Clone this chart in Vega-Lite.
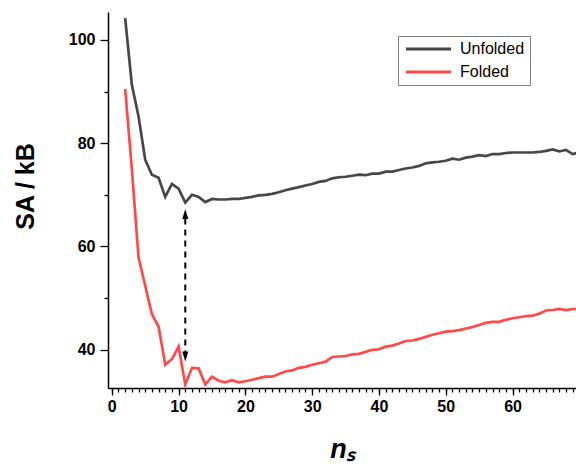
{
  "$schema": "https://vega.github.io/schema/vega-lite/v6.json",
  "autosize": {"type": "none"},
  "width": 468,
  "height": 376,
  "padding": {"left": 108, "top": 12, "right": 0, "bottom": 76},
  "background": "white",
  "config": {
    "view": {"stroke": null},
    "axis": {
      "grid": false,
      "domainColor": "black",
      "domainWidth": 1.5,
      "tickColor": "black",
      "tickWidth": 1.3,
      "labelFont": "Liberation Sans",
      "labelFontWeight": "bold",
      "labelFontSize": 16,
      "labelColor": "black",
      "titleFont": "Liberation Sans",
      "titleFontWeight": "bold",
      "titleColor": "black",
      "labelOverlap": false,
      "labelFlush": false
    }
  },
  "resolve": {"axis": {"x": "independent", "y": "independent"}},
  "datasets": {
    "curves": [
      {"series": "Unfolded", "n": 2, "S": 104.2}, {"series": "Unfolded", "n": 3, "S": 91.3}, {"series": "Unfolded", "n": 4, "S": 85.2}, {"series": "Unfolded", "n": 5, "S": 76.8}, {"series": "Unfolded", "n": 6, "S": 73.9}, {"series": "Unfolded", "n": 7, "S": 73.3}, {"series": "Unfolded", "n": 8, "S": 69.6}, {"series": "Unfolded", "n": 9, "S": 72.1}, {"series": "Unfolded", "n": 10, "S": 71.2}, {"series": "Unfolded", "n": 11, "S": 68.5}, {"series": "Unfolded", "n": 12, "S": 70.0}, {"series": "Unfolded", "n": 13, "S": 69.6}, {"series": "Unfolded", "n": 14, "S": 68.6}, {"series": "Unfolded", "n": 15, "S": 69.2}, {"series": "Unfolded", "n": 16, "S": 69.1}, {"series": "Unfolded", "n": 17, "S": 69.1}, {"series": "Unfolded", "n": 18, "S": 69.2}, {"series": "Unfolded", "n": 19, "S": 69.2}, {"series": "Unfolded", "n": 20, "S": 69.4}, {"series": "Unfolded", "n": 21, "S": 69.6}, {"series": "Unfolded", "n": 22, "S": 69.9}, {"series": "Unfolded", "n": 23, "S": 70.0}, {"series": "Unfolded", "n": 24, "S": 70.2}, {"series": "Unfolded", "n": 25, "S": 70.5}, {"series": "Unfolded", "n": 26, "S": 70.9}, {"series": "Unfolded", "n": 27, "S": 71.2}, {"series": "Unfolded", "n": 28, "S": 71.5}, {"series": "Unfolded", "n": 29, "S": 71.8}, {"series": "Unfolded", "n": 30, "S": 72.1}, {"series": "Unfolded", "n": 31, "S": 72.5}, {"series": "Unfolded", "n": 32, "S": 72.7}, {"series": "Unfolded", "n": 33, "S": 73.2}, {"series": "Unfolded", "n": 34, "S": 73.4}, {"series": "Unfolded", "n": 35, "S": 73.5}, {"series": "Unfolded", "n": 36, "S": 73.7}, {"series": "Unfolded", "n": 37, "S": 73.9}, {"series": "Unfolded", "n": 38, "S": 73.8}, {"series": "Unfolded", "n": 39, "S": 74.1}, {"series": "Unfolded", "n": 40, "S": 74.1}, {"series": "Unfolded", "n": 41, "S": 74.5}, {"series": "Unfolded", "n": 42, "S": 74.5}, {"series": "Unfolded", "n": 43, "S": 74.8}, {"series": "Unfolded", "n": 44, "S": 75.1}, {"series": "Unfolded", "n": 45, "S": 75.3}, {"series": "Unfolded", "n": 46, "S": 75.6}, {"series": "Unfolded", "n": 47, "S": 76.1}, {"series": "Unfolded", "n": 48, "S": 76.3}, {"series": "Unfolded", "n": 49, "S": 76.4}, {"series": "Unfolded", "n": 50, "S": 76.6}, {"series": "Unfolded", "n": 51, "S": 77.0}, {"series": "Unfolded", "n": 52, "S": 76.8}, {"series": "Unfolded", "n": 53, "S": 77.2}, {"series": "Unfolded", "n": 54, "S": 77.4}, {"series": "Unfolded", "n": 55, "S": 77.7}, {"series": "Unfolded", "n": 56, "S": 77.5}, {"series": "Unfolded", "n": 57, "S": 77.9}, {"series": "Unfolded", "n": 58, "S": 77.9}, {"series": "Unfolded", "n": 59, "S": 78.1}, {"series": "Unfolded", "n": 60, "S": 78.2}, {"series": "Unfolded", "n": 61, "S": 78.2}, {"series": "Unfolded", "n": 62, "S": 78.2}, {"series": "Unfolded", "n": 63, "S": 78.2}, {"series": "Unfolded", "n": 64, "S": 78.3}, {"series": "Unfolded", "n": 65, "S": 78.5}, {"series": "Unfolded", "n": 66, "S": 78.8}, {"series": "Unfolded", "n": 67, "S": 78.4}, {"series": "Unfolded", "n": 68, "S": 78.7}, {"series": "Unfolded", "n": 69, "S": 77.9}, {"series": "Unfolded", "n": 70, "S": 78.2},
      {"series": "Folded", "n": 2, "S": 90.5}, {"series": "Folded", "n": 3, "S": 75.0}, {"series": "Folded", "n": 4, "S": 57.9}, {"series": "Folded", "n": 5, "S": 52.4}, {"series": "Folded", "n": 6, "S": 46.9}, {"series": "Folded", "n": 7, "S": 44.5}, {"series": "Folded", "n": 8, "S": 37.1}, {"series": "Folded", "n": 9, "S": 38.2}, {"series": "Folded", "n": 10, "S": 40.6}, {"series": "Folded", "n": 11, "S": 33.3}, {"series": "Folded", "n": 12, "S": 36.5}, {"series": "Folded", "n": 13, "S": 36.4}, {"series": "Folded", "n": 14, "S": 33.3}, {"series": "Folded", "n": 15, "S": 34.8}, {"series": "Folded", "n": 16, "S": 34.0}, {"series": "Folded", "n": 17, "S": 33.7}, {"series": "Folded", "n": 18, "S": 34.1}, {"series": "Folded", "n": 19, "S": 33.7}, {"series": "Folded", "n": 20, "S": 33.9}, {"series": "Folded", "n": 21, "S": 34.2}, {"series": "Folded", "n": 22, "S": 34.5}, {"series": "Folded", "n": 23, "S": 34.8}, {"series": "Folded", "n": 24, "S": 34.8}, {"series": "Folded", "n": 25, "S": 35.3}, {"series": "Folded", "n": 26, "S": 35.8}, {"series": "Folded", "n": 27, "S": 36.0}, {"series": "Folded", "n": 28, "S": 36.5}, {"series": "Folded", "n": 29, "S": 36.7}, {"series": "Folded", "n": 30, "S": 37.1}, {"series": "Folded", "n": 31, "S": 37.4}, {"series": "Folded", "n": 32, "S": 37.7}, {"series": "Folded", "n": 33, "S": 38.6}, {"series": "Folded", "n": 34, "S": 38.7}, {"series": "Folded", "n": 35, "S": 38.8}, {"series": "Folded", "n": 36, "S": 39.1}, {"series": "Folded", "n": 37, "S": 39.2}, {"series": "Folded", "n": 38, "S": 39.6}, {"series": "Folded", "n": 39, "S": 40.0}, {"series": "Folded", "n": 40, "S": 40.1}, {"series": "Folded", "n": 41, "S": 40.6}, {"series": "Folded", "n": 42, "S": 40.8}, {"series": "Folded", "n": 43, "S": 41.2}, {"series": "Folded", "n": 44, "S": 41.7}, {"series": "Folded", "n": 45, "S": 41.8}, {"series": "Folded", "n": 46, "S": 42.1}, {"series": "Folded", "n": 47, "S": 42.5}, {"series": "Folded", "n": 48, "S": 42.9}, {"series": "Folded", "n": 49, "S": 43.2}, {"series": "Folded", "n": 50, "S": 43.5}, {"series": "Folded", "n": 51, "S": 43.6}, {"series": "Folded", "n": 52, "S": 43.8}, {"series": "Folded", "n": 53, "S": 44.1}, {"series": "Folded", "n": 54, "S": 44.4}, {"series": "Folded", "n": 55, "S": 44.8}, {"series": "Folded", "n": 56, "S": 45.2}, {"series": "Folded", "n": 57, "S": 45.4}, {"series": "Folded", "n": 58, "S": 45.4}, {"series": "Folded", "n": 59, "S": 45.8}, {"series": "Folded", "n": 60, "S": 46.1}, {"series": "Folded", "n": 61, "S": 46.3}, {"series": "Folded", "n": 62, "S": 46.5}, {"series": "Folded", "n": 63, "S": 46.6}, {"series": "Folded", "n": 64, "S": 47.0}, {"series": "Folded", "n": 65, "S": 47.6}, {"series": "Folded", "n": 66, "S": 47.7}, {"series": "Folded", "n": 67, "S": 47.9}, {"series": "Folded", "n": 68, "S": 47.7}, {"series": "Folded", "n": 69, "S": 47.9}, {"series": "Folded", "n": 70, "S": 47.9}
    ],
    "arrow": [{"n": 11, "top": 65.4, "bottom": 39.6}],
    "headUp": [{"n": 11, "S": 66.3}],
    "headDown": [{"n": 11, "S": 38.7}]
  },
  "layer": [
    {
      "data": {"name": "curves"},
      "mark": {"type": "line", "strokeWidth": 2.7, "clip": true},
      "encoding": {
        "x": {
          "field": "n", "type": "quantitative",
          "scale": {"domain": [-0.57, 69.5], "nice": false, "zero": false},
          "axis": {
            "orient": "bottom",
            "values": [0, 10, 20, 30, 40, 50, 60],
            "tickSize": 7,
            "labelPadding": 3,
            "title": "nₛ",
            "titleFontSize": 27,
            "titleFontStyle": "italic",
            "titlePadding": 22
          }
        },
        "y": {
          "field": "S", "type": "quantitative",
          "scale": {"domain": [32.6, 105.4], "nice": false, "zero": false},
          "axis": {
            "orient": "left",
            "values": [40, 60, 80, 100],
            "tickSize": 8,
            "labelPadding": 5,
            "title": "SA / kB",
            "titleFontSize": 25,
            "titlePadding": 30,
            "titleY": 174
          }
        },
        "color": {
          "field": "series", "type": "nominal",
          "scale": {"domain": ["Unfolded", "Folded"], "range": ["#474747", "#ff4a4a"]},
          "legend": {
            "orient": "none",
            "legendX": 290,
            "legendY": 24,
            "title": null,
            "strokeColor": "#7f7f7f",
            "fillColor": "white",
            "padding": 5,
            "rowPadding": 7,
            "symbolType": "M-1,0L8,0",
            "symbolSize": 100,
            "symbolStrokeWidth": 3,
            "labelFont": "Liberation Sans",
            "labelFontSize": 16,
            "labelColor": "black",
            "labelOffset": 41
          }
        }
      }
    },
    {
      "data": {"name": "arrow"},
      "mark": {"type": "rule", "strokeDash": [6, 5], "strokeWidth": 2, "color": "black"},
      "encoding": {
        "x": {
          "field": "n", "type": "quantitative",
          "axis": {
            "orient": "bottom",
            "values": [0,1,2,3,4,5,6,7,8,9,10,11,12,13,14,15,16,17,18,19,20,21,22,23,24,25,26,27,28,29,30,31,32,33,34,35,36,37,38,39,40,41,42,43,44,45,46,47,48,49,50,51,52,53,54,55,56,57,58,59,60,61,62,63,64,65,66,67,68,69],
            "tickSize": 4,
            "labels": false,
            "domain": false,
            "title": null
          }
        },
        "y": {
          "field": "top", "type": "quantitative",
          "axis": {
            "orient": "left",
            "values": [50, 70, 90],
            "tickSize": 4,
            "labels": false,
            "domain": false,
            "title": null
          }
        },
        "y2": {"field": "bottom"}
      }
    },
    {
      "data": {"name": "headUp"},
      "mark": {"type": "point", "shape": "M0,-1L0.6,1L-0.6,1Z", "filled": true, "color": "black", "opacity": 1, "size": 100},
      "encoding": {
        "x": {"field": "n", "type": "quantitative", "axis": null},
        "y": {"field": "S", "type": "quantitative", "axis": null}
      }
    },
    {
      "data": {"name": "headDown"},
      "mark": {"type": "point", "shape": "M0,1L0.6,-1L-0.6,-1Z", "filled": true, "color": "black", "opacity": 1, "size": 100},
      "encoding": {
        "x": {"field": "n", "type": "quantitative", "axis": null},
        "y": {"field": "S", "type": "quantitative", "axis": null}
      }
    }
  ]
}
